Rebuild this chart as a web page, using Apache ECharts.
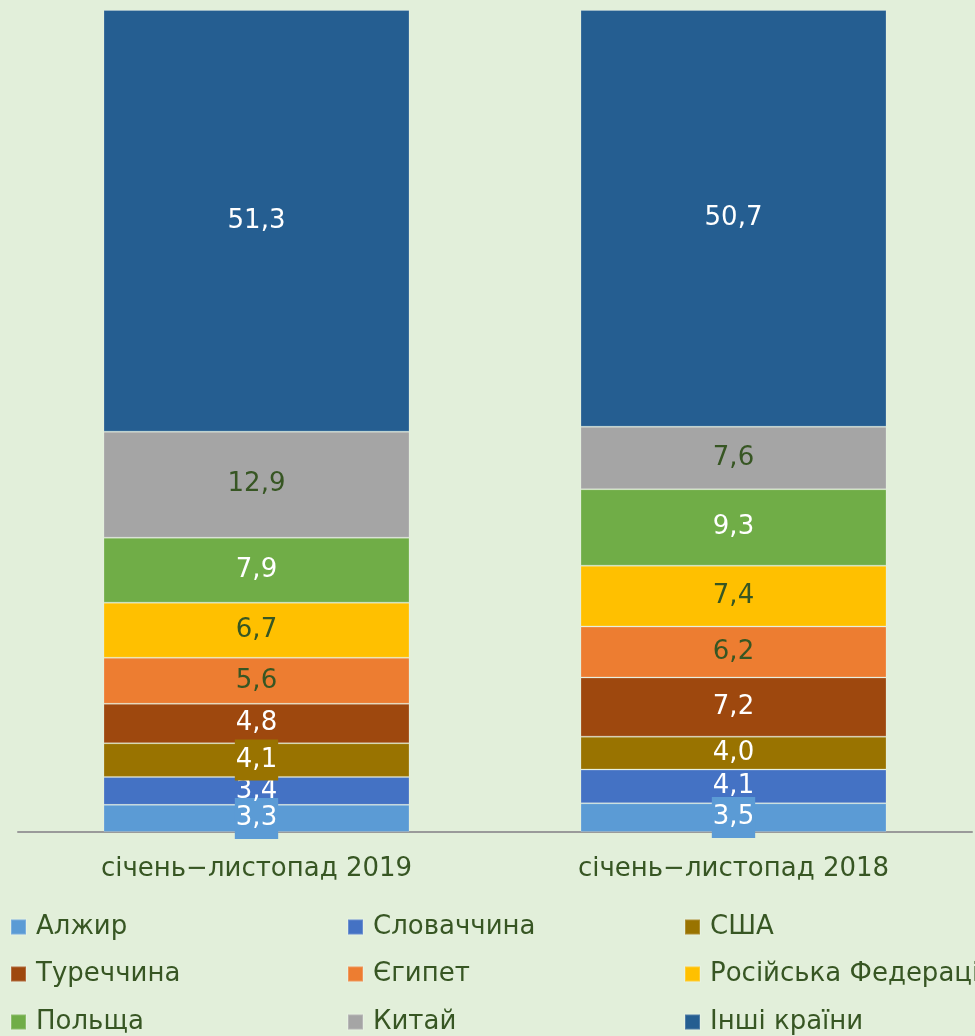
<!DOCTYPE html>
<html>
<head>
<meta charset="utf-8">
<script src="https://cdn.jsdelivr.net/npm/echarts@6/dist/echarts.min.js"></script>
<style>
  html, body { margin: 0; padding: 0; background: #E2EFDA; }
  #chart { width: 975px; height: 1036px; }
</style>
</head>
<body>
<div id="chart"></div>
<script>
    'use strict'

    /* Chart data */
    var categories = ['січень−листопад 2019', 'січень−листопад 2018'];
    var countries = ['Алжир', 'Словаччина', 'США', 'Туреччина', 'Єгипет',
        'Російська Федерація', 'Польща', 'Китай', 'Інші країни'];
    var share2019 = [3.3, 3.4, 4.1, 4.8, 5.6, 6.7, 7.9, 12.9, 51.3];
    var share2018 = [3.5, 4.1, 4.0, 7.2, 6.2, 7.4, 9.3, 7.6, 50.7];
    var colors = ['#5B9BD5', '#4472C4', '#997300', '#9E480E', '#ED7D31',
        '#FFC000', '#70AD47', '#A5A5A5', '#255E91'];
    // series whose labels are dark green instead of white
    var darkLabels = ['Єгипет', 'Російська Федерація', 'Китай'];
    // labels drawn on a filled box: [country, category index]
    var boxedLabels = [['Алжир', 0], ['США', 0], ['Алжир', 1]];

    var textGreen = '#375623';
    var font = 'DejaVu Sans';

    var series = countries.map(function (name, i) {
        var vals = [share2019[i], share2018[i]];
        return {
            name: name,
            type: 'bar',
            stack: 'total',
            barWidth: 306,
            itemStyle: { color: colors[i], borderColor: 'rgba(255,255,255,0.2)', borderWidth: 1 },
            label: {
                show: true,
                position: 'inside',
                fontFamily: font,
                fontSize: 26,
                color: darkLabels.indexOf(name) >= 0 ? textGreen : '#ffffff',
                formatter: function (p) { return p.value.toFixed(1).replace('.', ','); }
            },
            data: vals.map(function (v, c) {
                var boxed = boxedLabels.some(function (b) { return b[0] === name && b[1] === c; });
                if (!boxed) return v;
                return { value: v, label: { backgroundColor: colors[i], padding: [8, 1, 7, 1] } };
            })
        };
    });

    /* Legend: 3 columns x 3 rows, one legend per item */
    var legendCols = [10, 347, 684];
    var legendRows = [914, 961, 1009];
    var legends = countries.map(function (name, i) {
        return {
            data: [name],
            left: legendCols[i % 3],
            top: legendRows[Math.floor(i / 3)],
            padding: 0,
            itemWidth: 15,
            itemHeight: 15,
            icon: 'rect',
            selectedMode: false,
            textStyle: { fontFamily: font, fontSize: 26, color: textGreen, padding: [0, 0, 0, 5] }
        };
    });

    var chart = echarts.init(document.getElementById('chart'));
    chart.setOption({
        backgroundColor: '#E2EFDA',
        animation: false,
        color: colors,
        textStyle: { fontFamily: font },
        grid: { top: 10, right: 3, bottom: 204, left: 18 },
        legend: legends,
        xAxis: {
            type: 'category',
            data: categories,
            axisTick: { show: false },
            axisLine: { lineStyle: { color: '#9A9A9A', width: 2 } },
            axisLabel: { fontFamily: font, fontSize: 26, color: textGreen, margin: 24 }
        },
        yAxis: { type: 'value', min: 0, max: 100, show: false },
        series: series
    });
</script>
</body>
</html>
